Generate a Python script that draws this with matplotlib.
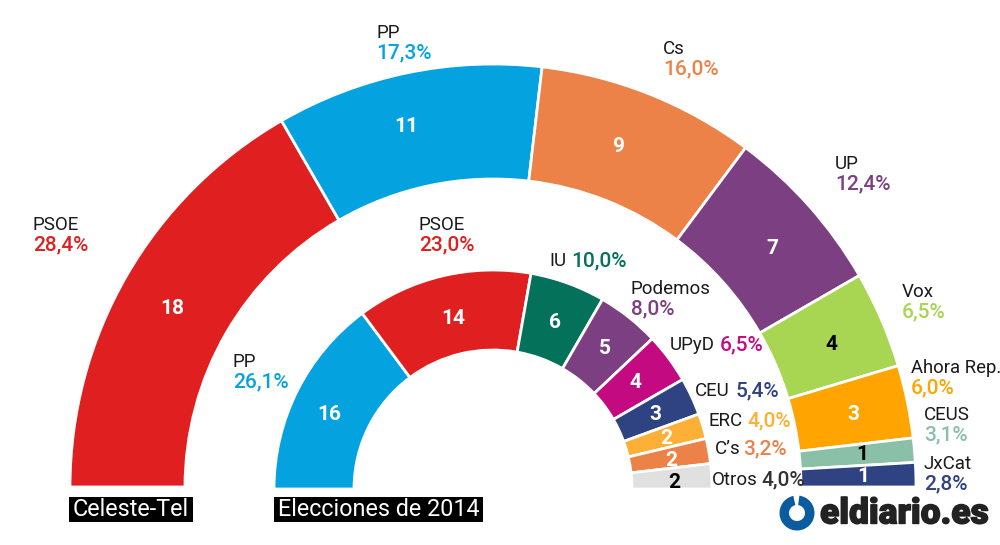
import matplotlib
matplotlib.use("Agg")
import matplotlib.pyplot as plt
import matplotlib.patheffects as pe
from matplotlib.patches import Wedge

plt.rcParams["font.family"] = ["Roboto", "DejaVu Sans"]

# Celeste-Tel (outer ring)
poll_parties = ["PSOE", "PP", "Cs", "UP", "Vox", "Ahora Rep.", "CEUS", "JxCat"]
poll_seats = [18, 11, 9, 7, 4, 3, 1, 1]
poll_pct = ["28,4%", "17,3%", "16,0%", "12,4%", "6,5%", "6,0%", "3,1%", "2,8%"]
poll_colors = ["#e02020", "#05a2e0", "#ec8248", "#7c3f82", "#a9d652", "#ffa400", "#8bc0a8", "#2f4282"]
poll_num_colors = ["white", "white", "white", "white", "black", "white", "black", "white"]

# Elecciones de 2014 (inner ring)
vote_parties = ["PP", "PSOE", "IU", "Podemos", "UPyD", "CEU", "ERC", "C's", "Otros"]
vote_seats = [16, 14, 6, 5, 4, 3, 2, 2, 2]
vote_pct = ["26,1%", "23,0%", "10,0%", "8,0%", "6,5%", "5,4%", "4,0%", "3,2%", "4,0%"]
vote_colors = ["#05a2e0", "#e02020", "#04725a", "#7c3f82", "#c40a80", "#2f4282", "#fdb035", "#ec8248", "#e0e0e0"]
vote_num_colors = ["white", "white", "white", "white", "white", "white", "white", "white", "black"]

TEXT = "#1a1a1a"

fig = plt.figure(figsize=(10, 5.45), dpi=100)
ax = fig.add_axes([0, 0, 1, 1])


def half_donut(seats, colors, num_colors, num_xy, center, radius, width):
    # the second half of the pie is hidden, y axis is flipped later so the arc goes over the top
    wedges, _ = ax.pie(seats + [sum(seats)], colors=colors + ["white"], startangle=180,
                       center=center, radius=radius, counterclock=True,
                       wedgeprops=dict(width=width, edgecolor="white", linewidth=2))
    wedges[-1].set_visible(False)
    for (x, y), n, c in zip(num_xy, seats, num_colors):
        ax.text(x, y, str(n), color=c, fontsize=15, fontweight="bold",
                ha="center", va="center_baseline")


poll_num_xy = [(172, 307), (406, 125), (618, 145), (772, 246), (831, 342), (853, 412), (862, 452), (863, 475)]
vote_num_xy = [(329, 412), (453, 317), (555, 320), (605, 346), (635, 380), (655, 412), (666, 437), (671, 459), (674, 480)]

half_donut(poll_seats, poll_colors, poll_num_colors, poll_num_xy, (493, 487), 423, 115)
half_donut(vote_seats, vote_colors, vote_num_colors, vote_num_xy, (493, 489), 219, 80)

ax.set_xlim(0, 1000)
ax.set_ylim(545, 0)
ax.set_aspect("equal")
ax.axis("off")


def label(x, y, name, pct, color, size=13.5):
    ax.text(x, y + 1, name, color=TEXT, fontsize=size, va="center", ha="left")
    ax.text(x, y + 21, pct, color=color, fontsize=15, fontweight="medium", va="center", ha="left")


def inline(x, x2, y, name, pct, color):
    ax.text(x, y + 1, name, color=TEXT, fontsize=13.5, va="center", ha="left")
    ax.text(x2, y + 1, pct, color=color, fontsize=15, fontweight="medium", va="center", ha="left")


poll_xy = [(33, 224), (376, 32), (663, 48), (835, 163), (902, 291), (911, 367), (924, 414), (924, 463)]
for (x, y), n, p, c in zip(poll_xy, poll_parties, poll_pct, poll_colors):
    label(x, y, n, p, c, size=13.3 if n == "Ahora Rep." else 13.5)

label(233, 361, vote_parties[0], vote_pct[0], vote_colors[0])
label(419, 224, vote_parties[1], vote_pct[1], vote_colors[1])
label(631, 288, vote_parties[3], vote_pct[3], vote_colors[3])
inline(549, 571, 260, "IU", vote_pct[2], vote_colors[2])
inline(670, 720, 344, "UPyD", vote_pct[4], vote_colors[4])
inline(695, 736, 390, "CEU", vote_pct[5], vote_colors[5])
inline(708, 747, 420, "ERC", vote_pct[6], vote_colors[6])
inline(715, 743, 448, "C\u2019s", vote_pct[7], vote_colors[7])
inline(712, 761, 479, "Otros", vote_pct[8], "#333333")

# titles on black boxes
for x0, x1, t in [(68.5, 193, "Celeste-Tel"), (274, 483, "Elecciones de 2014")]:
    ax.fill_between([x0, x1], 497, 522, color="black", linewidth=0)
    ax.text((x0 + x1) / 2, 510, t, color="white", fontsize=16.8, ha="center", va="center")

# logo
ax.add_patch(Wedge((797, 513), 17.5, 278, 258 + 360, width=9.5, color="#0b5c9e", linewidth=0))
ax.text(820, 514, "eldiario.es", color="#222222", fontsize=25.5, fontweight="black",
        ha="left", va="center",
        path_effects=[pe.withStroke(linewidth=1, foreground="#222222")])

fig.savefig("out.png", dpi=100)
